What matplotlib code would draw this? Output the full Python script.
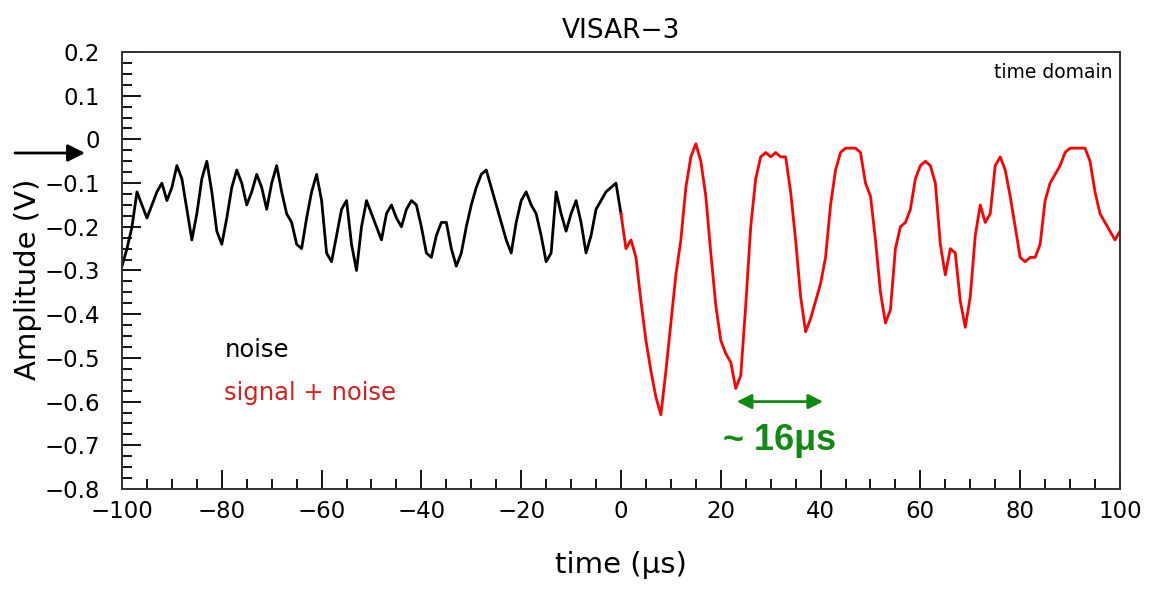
import numpy as np
import matplotlib
matplotlib.use("Agg")
import matplotlib.pyplot as plt
from matplotlib.ticker import MultipleLocator

# noise-only record, t = -100 .. 0 us (1 us steps)
t_noise = np.arange(-100, 1, 1)
v_noise = [
    -0.29, -0.25, -0.20, -0.12, -0.15, -0.18, -0.15, -0.12, -0.10, -0.14,
    -0.11, -0.06, -0.09, -0.16, -0.23, -0.17, -0.09, -0.05, -0.12, -0.21,
    -0.24, -0.18, -0.11, -0.07, -0.10, -0.15, -0.12, -0.08, -0.11, -0.16,
    -0.10, -0.06, -0.12, -0.17, -0.19, -0.24, -0.25, -0.18, -0.12, -0.08,
    -0.14, -0.26, -0.28, -0.22, -0.16, -0.14, -0.24, -0.30, -0.20, -0.14,
    -0.17, -0.20, -0.23, -0.17, -0.15, -0.18, -0.20, -0.16, -0.14, -0.15,
    -0.20, -0.26, -0.27, -0.22, -0.19, -0.19, -0.25, -0.29, -0.26, -0.20,
    -0.15, -0.11, -0.08, -0.07, -0.11, -0.15, -0.19, -0.23, -0.26, -0.19,
    -0.14, -0.12, -0.15, -0.17, -0.22, -0.28, -0.26, -0.12, -0.17, -0.21,
    -0.17, -0.14, -0.19, -0.26, -0.22, -0.16, -0.14, -0.12, -0.11, -0.10,
    -0.17,
]

# signal + noise record, t = 0 .. 100 us
t_signal = np.arange(0, 101, 1)
v_signal = [
    -0.17, -0.25, -0.23, -0.27, -0.37, -0.46, -0.53, -0.59, -0.63, -0.53,
    -0.42, -0.31, -0.23, -0.11, -0.04, -0.01, -0.05, -0.13, -0.26, -0.38,
    -0.46, -0.49, -0.51, -0.57, -0.54, -0.38, -0.20, -0.09, -0.04, -0.03,
    -0.04, -0.03, -0.04, -0.04, -0.12, -0.23, -0.36, -0.44, -0.41, -0.37,
    -0.33, -0.27, -0.15, -0.07, -0.03, -0.02, -0.02, -0.02, -0.03, -0.10,
    -0.13, -0.23, -0.35, -0.42, -0.39, -0.25, -0.20, -0.19, -0.16, -0.09,
    -0.06, -0.05, -0.06, -0.10, -0.24, -0.31, -0.25, -0.26, -0.37, -0.43,
    -0.36, -0.22, -0.15, -0.19, -0.17, -0.06, -0.04, -0.07, -0.13, -0.20,
    -0.27, -0.28, -0.27, -0.27, -0.24, -0.14, -0.10, -0.08, -0.06, -0.03,
    -0.02, -0.02, -0.02, -0.02, -0.05, -0.12, -0.17, -0.19, -0.21, -0.23,
    -0.21,
]

# period marker between two minima
period_start = 23.2
period_end = 40.5
period_level = -0.60

fig = plt.figure(figsize=(11.63, 5.89), dpi=100)
ax = fig.add_axes([0.1049, 0.1698, 0.8581, 0.7419])

ax.plot(t_noise, v_noise, color="black", lw=2.0)
ax.plot(t_signal, v_signal, color="#ff0000", lw=2.0)

ax.set_xlim(-100, 100)
ax.set_ylim(-0.8, 0.2)
ax.xaxis.set_major_locator(MultipleLocator(20))
ax.xaxis.set_minor_locator(MultipleLocator(5))
ax.yaxis.set_major_locator(MultipleLocator(0.1))
ax.yaxis.set_minor_locator(MultipleLocator(0.025))
ax.yaxis.set_major_formatter(plt.FuncFormatter(
    lambda v, p: "0" if abs(v) < 1e-9 else f"{v:.1f}".replace("-", "\u2212")))
ax.tick_params(which="both", direction="in", top=False, right=False,
               width=1.3, labelsize=16.5, colors="black")
ax.tick_params(axis="y", which="major", length=14, pad=16)
ax.tick_params(axis="y", which="minor", length=7.5)
ax.tick_params(axis="x", which="major", length=14, pad=8)
ax.tick_params(axis="x", which="minor", length=7.5)
for side in ax.spines.values():
    side.set_linewidth(1.4)
    side.set_color("#333333")

ax.set_xlabel("time (\u03bcs)", fontsize=21, labelpad=20)
ax.set_ylabel("Amplitude (V)", fontsize=21)
ax.yaxis.set_label_coords(-0.080, 0.48)
ax.set_title("VISAR\u22123", fontsize=19, pad=10)

ax.text(0.993, 0.975, "time domain", transform=ax.transAxes,
        ha="right", va="top", fontsize=13.5)
ax.text(-79.5, -0.482, "noise", fontsize=17.5, color="black", va="center")
ax.text(-79.5, -0.58, "signal + noise", fontsize=17.5, color="#d42020",
        va="center")

# double arrow showing the oscillation period
ax.annotate("", xy=(period_start, period_level), xytext=(period_end, period_level),
            arrowprops=dict(arrowstyle="<|-|>", color="#108a10", lw=2,
                            mutation_scale=22, shrinkA=0, shrinkB=0))
ax.text((period_start + period_end) / 2, -0.688, "~ 16\u03bcs",
        color="#108a10", fontsize=26, fontweight="bold",
        family="Liberation Sans", ha="center", va="center")

# zero-level pointer on the left
ax.annotate("", xy=(85 / 1163, 1 - 153 / 589), xycoords="figure fraction",
            xytext=(15 / 1163, 1 - 153 / 589), textcoords="figure fraction",
            arrowprops=dict(arrowstyle="-|>", color="black", lw=2,
                            mutation_scale=26, shrinkA=0, shrinkB=0),
            annotation_clip=False)

fig.savefig("out.png", dpi=100)
